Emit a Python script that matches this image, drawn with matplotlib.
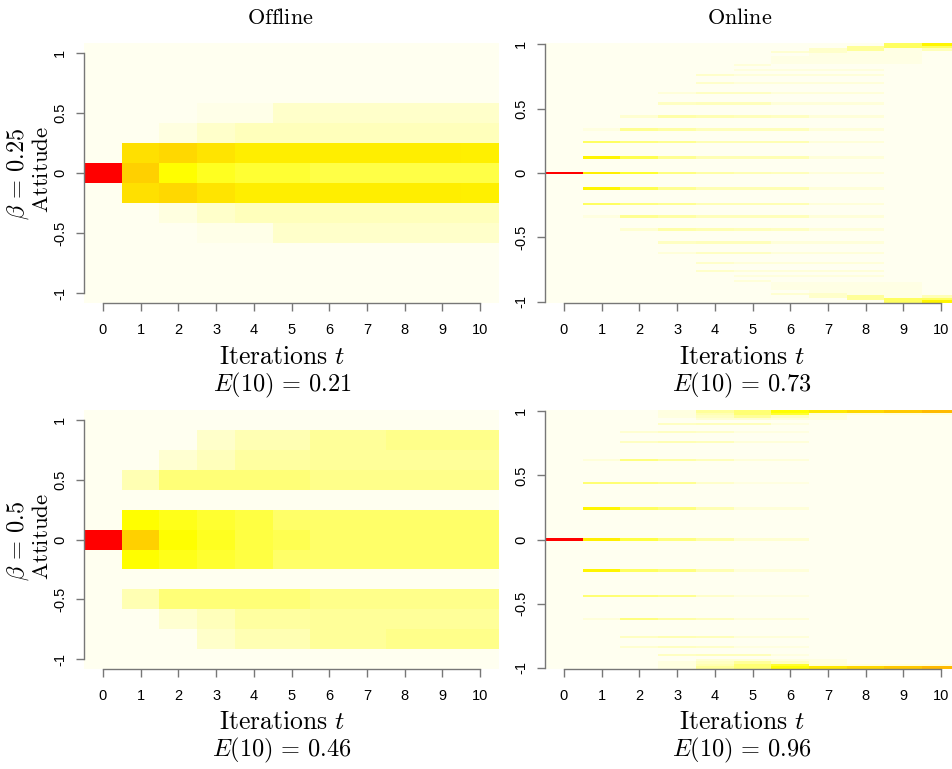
import numpy as np
import matplotlib.pyplot as plt
from matplotlib.colors import LinearSegmentedColormap

plt.rcParams['mathtext.fontset'] = 'cm'

iterations = np.arange(11)
attitude_ticks = [-1, -0.5, 0, 0.5, 1]
attitude_labels = ['-1', '-0.5', '0', '0.5', '1']

# offline model: share of agents per attitude bin, bins at k/6 for k = 0..6
# (the negative side is the mirror image)
offline_025 = [
    [1.0, 0.388, 0.25, 0.215, 0.197, 0.197, 0.179, 0.179, 0.179, 0.179, 0.179],
    [0, 0.341, 0.365, 0.329, 0.30, 0.30, 0.30, 0.30, 0.30, 0.30, 0.294],
    [0, 0, 0.016, 0.041, 0.058, 0.058, 0.058, 0.058, 0.058, 0.058, 0.058],
    [0, 0, 0, 0.008, 0.008, 0.041, 0.041, 0.041, 0.041, 0.041, 0.041],
    [0, 0, 0, 0, 0, 0, 0, 0, 0, 0, 0],
    [0, 0, 0, 0, 0, 0, 0, 0, 0, 0, 0],
    [0, 0, 0, 0, 0, 0, 0, 0, 0, 0, 0],
]
offline_05 = [
    [1.0, 0.388, 0.25, 0.215, 0.183, 0.166, 0.144, 0.144, 0.144, 0.144, 0.144],
    [0, 0.25, 0.223, 0.20, 0.183, 0.144, 0.144, 0.144, 0.144, 0.144, 0.144],
    [0, 0, 0, 0, 0, 0, 0, 0, 0, 0, 0],
    [0, 0.066, 0.126, 0.126, 0.126, 0.126, 0.108, 0.108, 0.108, 0.108, 0.108],
    [0, 0, 0.033, 0.058, 0.085, 0.085, 0.09, 0.09, 0.09, 0.09, 0.09],
    [0, 0, 0, 0.041, 0.066, 0.066, 0.09, 0.09, 0.108, 0.108, 0.108],
    [0, 0, 0, 0, 0, 0, 0, 0, 0, 0, 0],
]

# online model: attitude levels (positive side, mirrored) and share per iteration
online_levels_025 = [0.0, 0.12, 0.24, 0.34, 0.44, 0.54, 0.62, 0.70, 0.76, 0.80,
                     0.84, 0.86, 0.88, 0.90, 0.92, 0.94, 0.96, 0.98, 1.0]
online_025 = [
    [1.0, 0.30, 0.20, 0.12, 0.08, 0.066, 0.058, 0.025, 0.025, 0, 0],
    [0, 0.28, 0.17, 0.10, 0.066, 0.066, 0.066, 0.025, 0.025, 0, 0],
    [0, 0.15, 0.12, 0.10, 0.066, 0.066, 0.066, 0.025, 0.025, 0, 0],
    [0, 0.016, 0.10, 0.08, 0.058, 0.058, 0.058, 0.025, 0.025, 0, 0],
    [0, 0, 0.033, 0.075, 0.066, 0.058, 0.05, 0.025, 0.025, 0, 0],
    [0, 0, 0, 0.05, 0.058, 0.058, 0.025, 0.025, 0.025, 0, 0],
    [0, 0, 0, 0.025, 0.05, 0.05, 0.025, 0.025, 0.025, 0, 0],
    [0, 0, 0, 0, 0.041, 0.025, 0.025, 0.025, 0.025, 0, 0],
    [0, 0, 0, 0, 0.041, 0.025, 0.025, 0.025, 0.025, 0, 0],
    [0, 0, 0, 0, 0, 0.02, 0.02, 0.02, 0.02, 0, 0],
    [0, 0, 0, 0, 0, 0.025, 0, 0, 0, 0, 0],
    [0, 0, 0, 0, 0, 0, 0.012, 0.012, 0.012, 0.012, 0],
    [0, 0, 0, 0, 0, 0, 0.012, 0.012, 0.012, 0.012, 0],
    [0, 0, 0, 0, 0, 0, 0.012, 0.012, 0.012, 0.012, 0],
    [0, 0, 0, 0, 0, 0, 0, 0.012, 0.012, 0.012, 0],
    [0, 0, 0, 0, 0, 0, 0.033, 0.04, 0.012, 0.012, 0],
    [0, 0, 0, 0, 0, 0, 0, 0.04, 0.09, 0.012, 0.06],
    [0, 0, 0, 0, 0, 0, 0, 0, 0.09, 0.15, 0.15],
    [0, 0, 0, 0, 0, 0, 0, 0, 0, 0.15, 0.28],
]
online_levels_05 = [0.0, 0.24, 0.44, 0.62, 0.76, 0.84, 0.90, 0.94, 0.96, 0.98, 1.0]
online_05 = [
    [1.0, 0.30, 0.18, 0.12, 0.075, 0.033, 0.033, 0, 0, 0, 0],
    [0, 0.28, 0.15, 0.12, 0.066, 0.025, 0.025, 0, 0, 0, 0],
    [0, 0.13, 0.12, 0.10, 0.041, 0.016, 0.016, 0, 0, 0, 0],
    [0, 0.025, 0.12, 0.08, 0.058, 0.025, 0.025, 0, 0, 0, 0],
    [0, 0, 0.05, 0.066, 0.058, 0.025, 0.025, 0, 0, 0, 0],
    [0, 0, 0.033, 0.05, 0.041, 0.016, 0.016, 0, 0, 0, 0],
    [0, 0, 0, 0.05, 0.058, 0.058, 0.016, 0, 0, 0, 0],
    [0, 0, 0, 0, 0.03, 0.03, 0.02, 0.016, 0, 0, 0],
    [0, 0, 0, 0.016, 0.05, 0.09, 0.05, 0.016, 0, 0, 0],
    [0, 0, 0, 0.016, 0.066, 0.13, 0.20, 0.03, 0.02, 0.02, 0.02],
    [0, 0, 0, 0.016, 0.09, 0.13, 0.25, 0.32, 0.365, 0.41, 0.45],
]

columns = ['Offline', 'Online']
betas = ['0.25', '0.5']
errors = [['0.21', '0.73'], ['0.46', '0.96']]

heat = LinearSegmentedColormap.from_list(
    'heat', [(0, '#fffff0'), (0.25, '#ffff00'), (1, '#ff0000')])

W, H = 952, 769


def box(x0, y0, x1, y1):
    return [x0 / W, 1 - y1 / H, (x1 - x0) / W, (y1 - y0) / H]


def offline_grid(rows):
    upper = np.array(rows, float)
    return np.vstack([upper[:0:-1], upper])


def online_grid(levels, rows):
    grid = np.zeros((101, len(iterations)))
    for level, row in zip(levels, rows):
        k = int(round(level * 50))
        grid[50 + k] = row
        grid[50 - k] = row
    return grid


def draw_panel(ax, grid, half):
    ax.imshow(grid, extent=(-0.5, 10.5, -half, half), origin='lower',
              aspect='auto', interpolation='nearest', cmap=heat, vmin=0, vmax=1)
    ax.spines['top'].set_visible(False)
    ax.spines['right'].set_visible(False)
    ax.spines['left'].set_bounds(-1, 1)
    ax.spines['bottom'].set_bounds(0, 10)
    for s in ['left', 'bottom']:
        ax.spines[s].set_color('#777777')
        ax.spines[s].set_linewidth(1)
    ax.set_xticks(iterations)
    ax.set_xticklabels([str(t) for t in iterations])
    ax.set_yticks(attitude_ticks)
    ax.set_yticklabels(attitude_labels, rotation=90, va='center')
    ax.tick_params(direction='out', length=5.5, width=1, color='#777777')
    ax.tick_params(axis='x', pad=9)
    ax.tick_params(axis='y', pad=6.5)
    for lab in ax.get_xticklabels() + ax.get_yticklabels():
        lab.set_family(['Liberation Sans Narrow', 'Liberation Sans'])
        lab.set_fontsize(10.5)


fig = plt.figure(figsize=(W / 100, H / 100), dpi=100)

panels = [
    (box(84, 43, 499, 303), offline_grid(offline_025), 13 / 12),
    (box(545, 43, 960, 303), online_grid(online_levels_025, online_025), 1.01),
    (box(84, 410, 499, 669), offline_grid(offline_05), 13 / 12),
    (box(545, 410, 960, 669), online_grid(online_levels_05, online_05), 1.01),
]
for rect, grid, half in panels:
    ax = fig.add_axes(rect)
    draw_panel(ax, grid, half)

# column titles
for x, name in zip([280, 740], columns):
    fig.text(x / W, 1 - 18 / H, r'$\mathrm{%s}$' % name, ha='center', va='center', fontsize=16)

# x labels and error values under every panel
for r, (y_lab, y_err) in enumerate([(357, 385), (722, 750)]):
    for c, x in enumerate([282, 742]):
        fig.text(x / W, 1 - y_lab / H, r'$\mathrm{Iterations}\ t$',
                 ha='center', va='center', fontsize=18.5)
        fig.text(x / W, 1 - y_err / H, r'$E(10)\,=\,%s$' % errors[r][c],
                 ha='center', va='center', fontsize=17.5)

# row labels
for beta, yb, ya in zip(betas, [174, 541], [169, 536]):
    fig.text(18 / W, 1 - yb / H, r'$\beta\,=\,%s$' % beta, rotation=90,
             ha='center', va='center', fontsize=17.5)
    fig.text(41.5 / W, 1 - ya / H, r'$\mathrm{Attitude}$', rotation=90,
             ha='center', va='center', fontsize=16.5)

fig.savefig('out.png', dpi=100)
